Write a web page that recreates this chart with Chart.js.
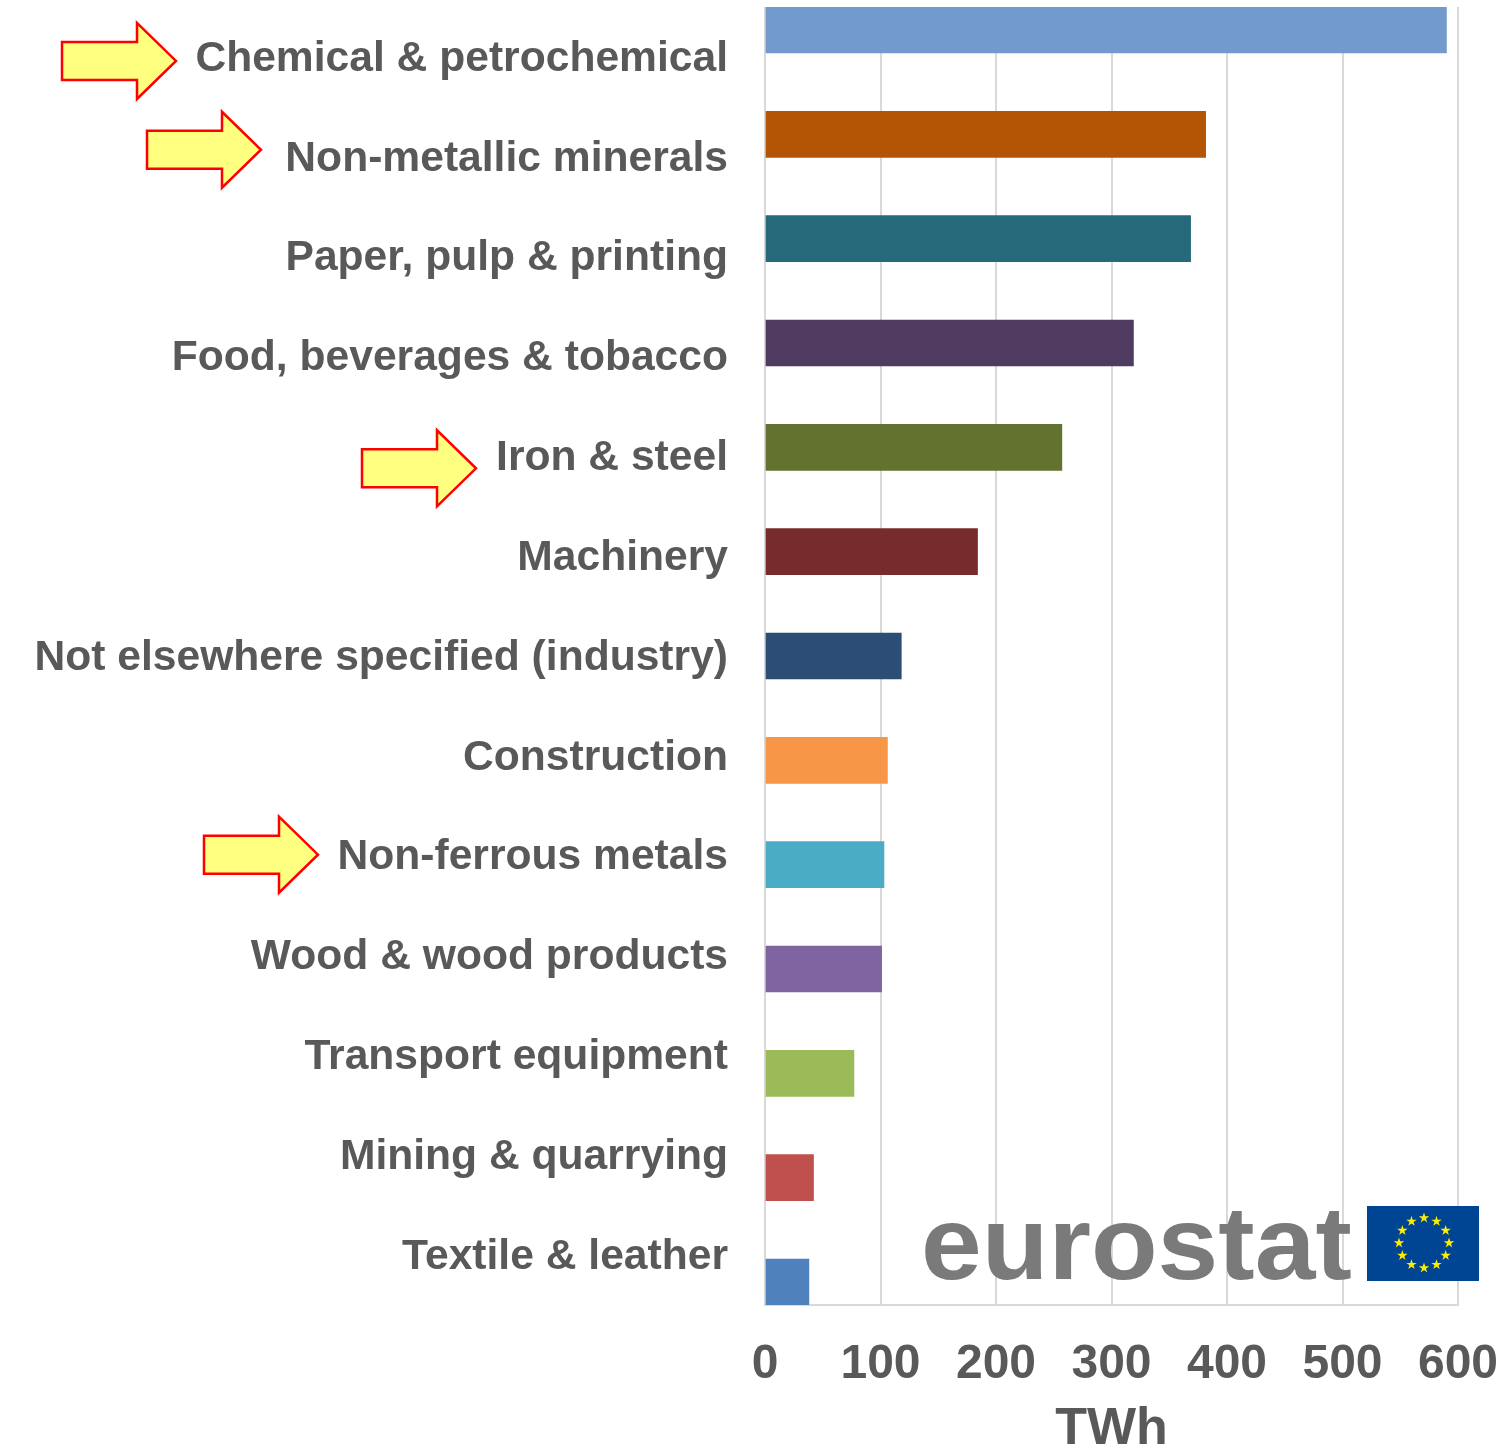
<!DOCTYPE html>
<html>
<head>
<meta charset="utf-8">
<title>Industry final energy consumption</title>
<script src="https://cdn.jsdelivr.net/npm/chart.js@4"></script>
<style>
  html, body { margin: 0; background: #fff; }
  canvas { display: block; }
</style>
</head>
<body>
<canvas id="industryChart" width="1505" height="1456"></canvas>
<script>
const categories = [
    "Chemical & petrochemical", "Non-metallic minerals", "Paper, pulp & printing",
    "Food, beverages & tobacco", "Iron & steel", "Machinery",
    "Not elsewhere specified (industry)", "Construction", "Non-ferrous metals",
    "Wood & wood products", "Transport equipment", "Mining & quarrying", "Textile & leather"
];
const twhValues = [590, 381.5, 368.5, 319, 257, 184, 118, 106, 103, 101, 77, 42, 38];
const barColours = [
    "#729ACD", "#B45506", "#26697B", "#503B60", "#62732F", "#772B2B", "#2C4D75",
    "#F79646", "#4BACC6", "#8064A2", "#9BBB59", "#C0504D", "#4F81BD"
];
const xTicks = [0, 100, 200, 300, 400, 500, 600];
const unitLabel = "TWh";

const TEXT_GREY = "#595959";
const GRID_GREY = "#d9d9d9";
const FONT = "'Liberation Sans', Arial, sans-serif";

// categories flagged with a yellow arrow: [label index, left edge, tip, offset from label centre]
const flagged = [[0, 62, 176, 4], [1, 147, 261, -7], [4, 362, 476, 12], [8, 204, 318, -1]];

function drawArrow(ctx, left, tip, cy) {
    const neck = tip - 39;
    ctx.beginPath();
    ctx.moveTo(left, cy - 19);
    ctx.lineTo(neck, cy - 19);
    ctx.lineTo(neck, cy - 38);
    ctx.lineTo(tip, cy);
    ctx.lineTo(neck, cy + 38);
    ctx.lineTo(neck, cy + 19);
    ctx.lineTo(left, cy + 19);
    ctx.closePath();
    ctx.fillStyle = "#FFFF80";
    ctx.fill();
    ctx.lineWidth = 2.5;
    ctx.strokeStyle = "#FF0000";
    ctx.stroke();
}

function drawStar(ctx, cx, cy, r) {
    ctx.beginPath();
    for (let i = 0; i < 10; i++) {
        const rad = i % 2 ? r * 0.382 : r;
        const a = -Math.PI / 2 + i * Math.PI / 5;
        ctx.lineTo(cx + rad * Math.cos(a), cy + rad * Math.sin(a));
    }
    ctx.closePath();
    ctx.fill();
}

function drawLogo(ctx) {
    ctx.save();
    ctx.fillStyle = "#7a7a7a";
    ctx.font = "bold 103px " + FONT;
    ctx.textAlign = "left";
    ctx.textBaseline = "alphabetic";
    // the logo lettering is wider than the font
    ctx.translate(921, 1279);
    ctx.scale(1.06, 1);
    ctx.fillText("eurostat", 0, 0);
    ctx.restore();

    // EU flag
    ctx.fillStyle = "#004494";
    ctx.fillRect(1367, 1206, 112, 75);
    ctx.fillStyle = "#FFED00";
    for (let i = 0; i < 12; i++) {
        const a = i * Math.PI / 6;
        drawStar(ctx, 1424 + 25 * Math.sin(a), 1243 - 25 * Math.cos(a), 5.5);
    }
}

const decorations = {
    id: "decorations",
    afterDraw(chart) {
        const ctx = chart.ctx;
        ctx.save();
        flagged.forEach(([idx, left, tip, dy]) => {
            drawArrow(ctx, left, tip, chart.scales.y.getPixelForValue(idx) + dy);
        });
        drawLogo(ctx);
        ctx.restore();
    }
};

// tick labels may overhang the plot area, no extra margin for them
function noOverhang(s) {
    s.paddingTop = s.paddingBottom = s.paddingLeft = s.paddingRight = 0;
}

new Chart(document.getElementById("industryChart"), {
    type: "bar",
    data: {
        labels: categories,
        datasets: [{
            data: twhValues.map((v, i) => ({ x: v, y: i })),
            yAxisID: "bars",
            backgroundColor: barColours,
            barThickness: 46
        }]
    },
    options: {
        indexAxis: "y",
        responsive: false,
        animation: false,
        layout: { padding: { top: 7, right: 47, left: 0, bottom: 0 } },
        plugins: { legend: { display: false }, tooltip: { enabled: false } },
        scales: {
            x: {
                type: "linear",
                min: 0,
                max: 600,
                afterFit: s => { s.height = 151; noOverhang(s); },
                afterBuildTicks: s => { s.ticks = xTicks.map(v => ({ value: v })); },
                grid: { color: GRID_GREY, lineWidth: 2, drawTicks: false },
                border: { color: GRID_GREY, width: 2 },
                ticks: {
                    color: TEXT_GREY,
                    padding: 31,
                    maxRotation: 0,
                    font: { family: FONT, size: 48, weight: "bold" }
                },
                title: {
                    display: true,
                    text: unitLabel,
                    color: TEXT_GREY,
                    padding: { top: 0, bottom: -5 },
                    font: { family: FONT, size: 52, weight: "bold" }
                }
            },
            // labels sit on their own even slots, the bars are spaced a bit wider
            y: {
                type: "category",
                position: "left",
                offset: true,
                afterFit: s => { s.width = 765; noOverhang(s); },
                afterUpdate: s => {
                    // nudge the label text down to sit like the original
                    const base = Object.getPrototypeOf(s).getPixelForTick;
                    s.getPixelForTick = function (i) { return base.call(this, i) + 2; };
                },
                grid: { display: false, drawTicks: false },
                border: { display: false },
                ticks: {
                    color: TEXT_GREY,
                    padding: 37,
                    autoSkip: false,
                    font: { family: FONT, size: 42.6, weight: "bold" }
                }
            },
            bars: {
                axis: "y",
                type: "linear",
                display: false,
                reverse: true,
                offset: false,
                min: -0.2204,
                max: 12.2204,
                grid: { display: false }
            }
        }
    },
    plugins: [decorations]
});
</script>
</body>
</html>
